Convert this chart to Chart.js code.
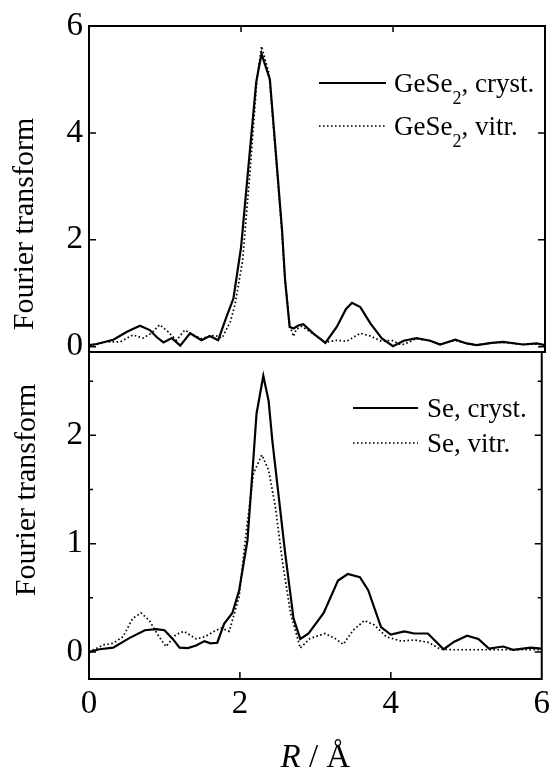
<!DOCTYPE html>
<html>
<head>
<meta charset="utf-8">
<script src="https://cdn.jsdelivr.net/npm/chart.js@4.4.1/dist/chart.umd.min.js"></script>
<style>
html,body{margin:0;padding:0;background:#fff;}
#wrap{position:relative;width:556px;height:769px;overflow:hidden;background:#fff;}
canvas{position:absolute;left:0;}
#c1{top:0;}
#c2{top:326px;}
</style>
</head>
<body>
<div id="wrap">
<canvas id="c1" width="556" height="380"></canvas>
<canvas id="c2" width="556" height="443"></canvas>
</div>
<script>
// ---------- data ----------
const xTickValues = [0, 2, 4, 6];
const topYTickValues = [0, 2, 4, 6];
const bottomYTickValues = [0, 1, 2];
const bottomYMinorValues = [0.5, 1.5, 2.5];

const yTitle = 'Fourier transform';
const topLegendParts = [
  [{t:'GeSe'},{t:'2',sub:true},{t:', cryst.'}],
  [{t:'GeSe'},{t:'2',sub:true},{t:', vitr.'}]
];
const bottomLegendParts = [
  [{t:'Se, cryst.'}],
  [{t:'Se, vitr.'}]
];

// GeSe2, crystalline
const geCrystR  = [0.00,0.10,0.32,0.50,0.67,0.80,0.89,0.98,1.09,1.20,1.33,1.48,1.59,1.70,1.81,1.90,2.00,2.10,2.20,2.27,2.38,2.46,2.54,2.58,2.64,2.69,2.76,2.82,2.95,3.11,3.26,3.38,3.46,3.57,3.70,3.85,4.00,4.14,4.31,4.49,4.62,4.82,4.97,5.10,5.30,5.45,5.71,5.89,6.00];
const geCrystFT = [0.03,0.05,0.13,0.28,0.39,0.31,0.18,0.08,0.16,0.02,0.25,0.12,0.20,0.12,0.56,0.90,1.85,3.40,4.95,5.48,5.00,3.60,2.18,1.25,0.37,0.34,0.40,0.42,0.25,0.07,0.37,0.70,0.82,0.74,0.44,0.16,0.01,0.11,0.16,0.11,0.04,0.13,0.06,0.03,0.07,0.09,0.04,0.06,0.03];
// GeSe2, vitreous
const geVitrR  = [0.00,0.10,0.23,0.41,0.58,0.71,0.82,0.93,1.04,1.15,1.26,1.37,1.48,1.57,1.66,1.75,1.86,1.92,2.02,2.12,2.21,2.27,2.37,2.45,2.53,2.58,2.64,2.69,2.73,2.80,2.95,3.11,3.26,3.39,3.57,3.70,3.85,3.98,4.11,4.22,4.31,4.49,4.62,4.82,4.97,5.10,5.30,5.45,5.71,5.89,6.00];
const geVitrFT = [0.02,0.04,0.09,0.09,0.22,0.16,0.25,0.41,0.28,0.12,0.31,0.22,0.15,0.19,0.21,0.16,0.47,0.78,1.60,3.30,5.00,5.62,5.10,3.70,2.30,1.25,0.40,0.19,0.33,0.38,0.24,0.08,0.12,0.10,0.25,0.20,0.10,0.12,0.03,0.09,0.15,0.11,0.04,0.12,0.06,0.03,0.07,0.08,0.04,0.05,0.03];
// Se, crystalline
const seCrystR  = [0.00,0.14,0.32,0.54,0.74,0.89,1.00,1.11,1.20,1.31,1.42,1.53,1.61,1.70,1.79,1.90,1.99,2.10,2.18,2.22,2.31,2.38,2.43,2.60,2.71,2.80,2.91,3.11,3.30,3.43,3.59,3.70,3.87,4.00,4.18,4.31,4.49,4.70,4.84,5.01,5.16,5.30,5.49,5.62,5.85,6.00];
const seCrystFT = [0.00,0.025,0.04,0.13,0.20,0.21,0.20,0.12,0.04,0.035,0.06,0.10,0.08,0.085,0.26,0.36,0.57,1.03,1.80,2.20,2.55,2.32,1.95,0.91,0.31,0.12,0.17,0.36,0.66,0.72,0.69,0.57,0.23,0.16,0.19,0.17,0.17,0.025,0.095,0.15,0.12,0.03,0.05,0.02,0.04,0.03];
// Se, vitreous
const seVitrR  = [0.00,0.19,0.32,0.45,0.58,0.69,0.80,0.91,1.02,1.15,1.26,1.42,1.53,1.66,1.75,1.86,1.92,1.99,2.07,2.18,2.29,2.38,2.47,2.56,2.67,2.80,2.93,3.13,3.26,3.37,3.50,3.65,3.78,3.94,4.14,4.31,4.49,4.66,4.84,5.20,5.60,6.00];
const seVitrFT = [0.00,0.065,0.08,0.14,0.31,0.36,0.29,0.16,0.05,0.16,0.19,0.12,0.14,0.19,0.22,0.19,0.34,0.51,1.03,1.65,1.82,1.68,1.34,0.85,0.36,0.035,0.125,0.17,0.125,0.07,0.20,0.29,0.25,0.14,0.10,0.11,0.09,0.025,0.02,0.02,0.02,0.02];

// ---------- helpers ----------
const serif = "'Liberation Serif','Times New Roman',Times,serif";
const pts = (xs, ys) => xs.map((x, i) => ({x: x, y: ys[i]}));
const solidStyle  = {borderColor:'#000', borderWidth:2.2, borderDash:[]};
const dottedStyle = {borderColor:'#000', borderWidth:1.7, borderDash:[1.6,2.4]};

function ds(label, xs, ys, style) {
  return Object.assign({label: label, data: pts(xs, ys), pointRadius: 0, tension: 0, fill: false}, style);
}

const framePlugin = {
  id: 'frame',
  afterDraw(chart, args, o) {
    const ctx = chart.ctx, a = chart.chartArea;
    const xs = chart.scales.x, ys = chart.scales.y;
    ctx.save();
    ctx.strokeStyle = '#000';
    ctx.setLineDash([]);
    ctx.lineWidth = 2;
    ctx.strokeRect(a.left, a.top, a.right - a.left, a.bottom - a.top);
    ctx.lineWidth = 1.5;
    ctx.beginPath();
    const yt = (vals, len) => (vals || []).forEach(v => {
      const p = ys.getPixelForValue(v);
      if (p < a.top + 3 || p > a.bottom - 3) return;
      ctx.moveTo(a.left, p); ctx.lineTo(a.left + len, p);
      ctx.moveTo(a.right, p); ctx.lineTo(a.right - len, p);
    });
    yt(o.yMajor, 7); yt(o.yMinor, 4);
    (o.xTop || []).forEach(v => {
      const p = xs.getPixelForValue(v);
      if (p < a.left + 3 || p > a.right - 3) return;
      ctx.moveTo(p, a.top); ctx.lineTo(p, a.top + 6);
    });
    (o.xBottom || []).forEach(v => {
      const p = xs.getPixelForValue(v);
      if (p < a.left + 3 || p > a.right - 3) return;
      ctx.moveTo(p, a.bottom); ctx.lineTo(p, a.bottom - 7);
    });
    ctx.stroke();
    ctx.restore();
  }
};

const textPlugin = {
  id: 'texts',
  afterDraw(chart, args, o) {
    const ctx = chart.ctx, a = chart.chartArea;
    ctx.save();
    ctx.fillStyle = '#000';
    ctx.strokeStyle = '#000';
    // y title
    ctx.save();
    ctx.translate(o.yTitleX, o.yTitleY);
    ctx.rotate(-Math.PI / 2);
    ctx.font = '30px ' + serif;
    ctx.textAlign = 'center';
    ctx.textBaseline = 'alphabetic';
    ctx.fillText(yTitle, 0, 0);
    ctx.restore();
    // legend
    const L = o.legend;
    chart.data.datasets.forEach((d, i) => {
      const y = L.rows[i];
      ctx.beginPath();
      ctx.setLineDash(d.borderDash || []);
      ctx.lineWidth = d.borderWidth;
      ctx.moveTo(L.x0, y); ctx.lineTo(L.x1, y);
      ctx.stroke();
      ctx.setLineDash([]);
      let x = L.tx;
      ctx.textAlign = 'left';
      ctx.textBaseline = 'alphabetic';
      L.parts[i].forEach(p => {
        ctx.font = (p.sub ? '18px ' : '27px ') + serif;
        ctx.fillText(p.t, x, y + 9 + (p.sub ? 12 : 0));
        x += ctx.measureText(p.t).width;
      });
    });
    // x title
    if (o.xTitle) {
      const f1 = 'italic 33px ' + serif, f2 = '33px ' + serif;
      ctx.font = f1; const w1 = ctx.measureText('R').width;
      ctx.font = f2; const w2 = ctx.measureText(' / Å').width;
      let x = (a.left + a.right) / 2 - (w1 + w2) / 2;
      ctx.textAlign = 'left';
      ctx.textBaseline = 'alphabetic';
      ctx.font = f1; ctx.fillText('R', x, o.xTitleY);
      ctx.font = f2; ctx.fillText(' / Å', x + w1, o.xTitleY);
    }
    ctx.restore();
  }
};

function makeOptions(cfg) {
  return {
    responsive: false,
    devicePixelRatio: 1,
    animation: false,
    events: [],
    layout: {padding: {left: 0, right: 11, top: 26, bottom: cfg.padBottom}},
    scales: {
      x: {
        type: 'linear', min: 0, max: 6,
        afterBuildTicks: s => { s.ticks = xTickValues.map(v => ({value: v})); },
        afterFit: s => { s.height = cfg.xHeight; },
        grid: {display: false, drawTicks: false},
        border: {display: false},
        ticks: {display: cfg.xLabels, color: '#000', padding: 6, font: {family: serif, size: 33}, maxRotation: 0, callback: v => String(v)}
      },
      y: {
        type: 'linear', min: cfg.yMin, max: cfg.yMax,
        afterBuildTicks: s => { s.ticks = cfg.yTicks.map(v => ({value: v})); },
        afterFit: s => { s.width = 89; },
        grid: {display: false, drawTicks: false},
        border: {display: false},
        ticks: {color: '#000', padding: 6, font: {family: serif, size: 33}, callback: v => String(v)}
      }
    },
    plugins: {
      legend: {display: false},
      tooltip: {enabled: false},
      frame: cfg.frame,
      texts: cfg.texts
    }
  };
}

new Chart(document.getElementById('c1'), {
  type: 'line',
  data: {datasets: [
    ds('GeSe2, cryst.', geCrystR, geCrystFT, solidStyle),
    ds('GeSe2, vitr.', geVitrR, geVitrFT, dottedStyle)
  ]},
  options: makeOptions({
    padBottom: 28, xHeight: 0, xLabels: false,
    yMin: -0.1, yMax: 6, yTicks: topYTickValues,
    frame: {yMajor: topYTickValues, xTop: xTickValues},
    texts: {yTitleX: 33, yTitleY: 224,
            legend: {x0: 319, x1: 386, tx: 394, rows: [83, 126], parts: topLegendParts}}
  }),
  plugins: [framePlugin, textPlugin]
});

new Chart(document.getElementById('c2'), {
  type: 'line',
  data: {datasets: [
    ds('Se, cryst.', seCrystR, seCrystFT, solidStyle),
    ds('Se, vitr.', seVitrR, seVitrFT, dottedStyle)
  ]},
  options: makeOptions({
    padBottom: 0, xHeight: 90, xLabels: true,
    yMin: -0.25, yMax: 2.77, yTicks: bottomYTickValues,
    frame: {yMajor: bottomYTickValues, yMinor: bottomYMinorValues, xBottom: xTickValues},
    texts: {yTitleX: 35, yTitleY: 164, xTitle: true, xTitleY: 441,
            legend: {x0: 353, x1: 418, tx: 427, rows: [82, 117], parts: bottomLegendParts}}
  }),
  plugins: [framePlugin, textPlugin]
});
</script>
</body>
</html>
